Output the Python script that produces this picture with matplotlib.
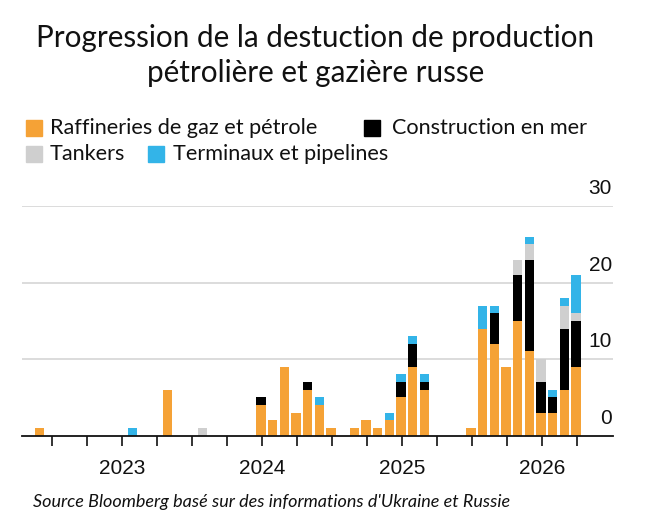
import numpy as np
import matplotlib
matplotlib.use("Agg")
import matplotlib.pyplot as plt
from matplotlib.lines import Line2D
from matplotlib.transforms import ScaledTranslation

# Données, un mois par barre
mois = [
    "2022-06", "2023-02", "2023-05", "2023-08",
    "2024-01", "2024-02", "2024-03", "2024-04", "2024-05", "2024-06", "2024-07",
    "2024-09", "2024-10", "2024-11", "2024-12", "2025-01", "2025-02", "2025-03",
    "2025-07", "2025-08", "2025-09", "2025-10", "2025-11", "2025-12",
    "2026-01", "2026-02", "2026-03", "2026-04",
]
raffineries = [1, 0, 6, 0, 4, 2, 9, 3, 6, 4, 1, 1, 2, 1, 2, 5, 9, 6,
               1, 14, 12, 9, 15, 11, 3, 3, 6, 9]
construction = [0, 0, 0, 0, 1, 0, 0, 0, 1, 0, 0, 0, 0, 0, 0, 2, 3, 1,
                0, 0, 4, 0, 6, 12, 4, 2, 8, 6]
tankers = [0, 0, 0, 1, 0, 0, 0, 0, 0, 0, 0, 0, 0, 0, 0, 0, 0, 0,
           0, 0, 0, 0, 2, 2, 3, 0, 3, 1]
terminaux = [0, 1, 0, 0, 0, 0, 0, 0, 0, 1, 0, 0, 0, 0, 1, 1, 1, 1,
             0, 3, 1, 0, 0, 1, 0, 1, 1, 5]

series = [
    ("Raffineries de gaz et pétrole", raffineries, "#F5A236"),
    ("Construction en mer", construction, "#000000"),
    ("Tankers", tankers, "#CFCFCF"),
    ("Terminaux et pipelines", terminaux, "#33B4E8"),
]

annees = [2023, 2024, 2025, 2026]
graduations_y = [0, 10, 20, 30]

# mois -> année décimale
x = np.array([int(m[:4]) + (int(m[5:]) - 1) / 12 for m in mois]) - 0.008

fig = plt.figure(figsize=(6.5, 5.25), dpi=100)
ax = fig.add_axes([0.034, 0.170, 0.909, 0.4377])

bas = np.zeros(len(mois))
for nom, valeurs, couleur in series:
    valeurs = np.array(valeurs, dtype=float)
    ax.bar(x, valeurs, width=0.8 / 12, bottom=bas, color=couleur,
           edgecolor="none", zorder=3)
    bas += valeurs

ax.set_xlim(2022.286, 2026.506)
ax.set_ylim(0, 30)

# grille horizontale
for v in graduations_y[1:]:
    ax.axhline(v, color="#D5D5D5", lw=1.2, zorder=1)

for s in ["top", "right", "left"]:
    ax.spines[s].set_visible(False)
ax.spines["bottom"].set_color("#111111")
ax.spines["bottom"].set_linewidth(1.3)
ax.spines["bottom"].set_zorder(4)

ticks_x = np.arange(2022.5, 2026.3, 0.25)
ax.set_yticks([])
ax.set_xticks(ticks_x)
ax.set_xticklabels([str(int(t)) if t in annees else "" for t in ticks_x])
ax.tick_params(axis="x", length=7, width=1.2, color="#111111", pad=10,
               labelsize=15, labelcolor="#111111")
for lab in ax.get_xticklabels():
    lab.set_fontfamily("Liberation Sans")

# étiquettes de l'axe y au-dessus des lignes
decal = ScaledTranslation(0, 8 / 100, fig.dpi_scale_trans)
for v in graduations_y:
    ax.text(0.998, v, str(v), transform=ax.get_yaxis_transform() + decal,
            ha="right", va="bottom", fontsize=15, color="#111111",
            family="Liberation Sans")

# titre
fig.text(0.485, 0.895,
         "Progression de la destuction de production\npétrolière et gazière russe",
         ha="center", va="center", fontsize=21.3, family="Lato",
         linespacing=1.3, color="#111111")

# légende manuelle : (x du carré, x du texte, y, série)
legende = [
    (0.052, 0.077, 0.756, 0),
    (0.572, 0.603, 0.756, 1),
    (0.052, 0.077, 0.707, 2),
    (0.240, 0.266, 0.707, 3),
]
for mx, tx, ly, i in legende:
    nom, _, couleur = series[i]
    fig.add_artist(Line2D([mx], [ly], marker="s", markersize=11,
                          color=couleur, transform=fig.transFigure))
    fig.text(tx, ly, nom, ha="left", va="center", fontsize=15.6,
             family="Lato", color="#111111")

# source
fig.text(0.051, 0.044,
         "Source Bloomberg basé sur des informations d'Ukraine et Russie",
         ha="left", va="center", fontsize=13, family="Lato",
         style="italic", color="#111111")

fig.savefig("out.png", dpi=100)
